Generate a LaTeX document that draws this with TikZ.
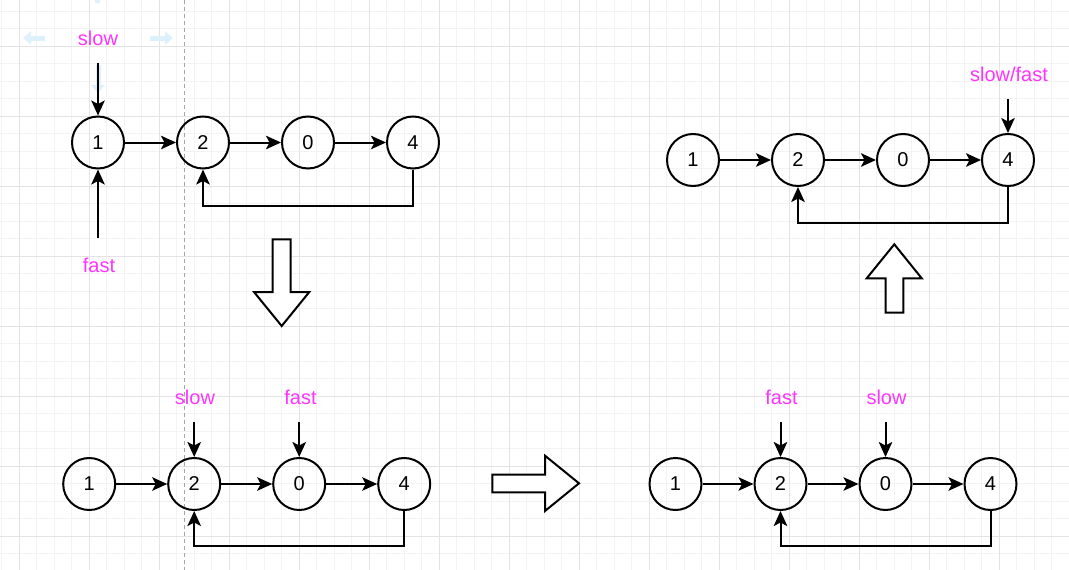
\documentclass[tikz,border=0pt]{standalone}
\usepackage{fontspec}
\setmainfont{Liberation Sans}
\usetikzlibrary{arrows.meta}
\definecolor{mag}{HTML}{FF33FF}
\definecolor{gridminor}{HTML}{F3F3F3}
\definecolor{gridmajor}{HTML}{E3E3E3}
\definecolor{hint}{HTML}{DDF1FC}
\begin{document}
\begin{tikzpicture}[x=1pt,y=-1pt,
  ln/.style={circle, draw, line width=2pt, minimum size=52pt, inner sep=0pt, font=\fontsize{20}{24}\selectfont},
  ptr/.style={line width=2pt, -{Stealth[length=15pt,width=13.5pt,inset=3.5pt]}},
  lbl/.style={text=mag, font=\fontsize{20}{24}\selectfont, inner sep=0pt, text height=14.5pt, text depth=0pt},
  blk/.style={draw, line width=2pt, fill=white, line join=miter},
  hintarrow/.style={hint, line width=5pt, -{Triangle[length=8pt,width=13pt]}}]
\useasboundingbox (0,0) rectangle (1069,570);
\fill[white] (0,0) rectangle (1069,570);
% grid
\foreach \i in {0,...,61} {\draw[gridminor, line width=1pt] ({1.8+17.5*\i},0) -- ({1.8+17.5*\i},570);}
\foreach \i in {0,...,32} {\draw[gridminor, line width=1pt] (0,{11+17.5*\i}) -- (1069,{11+17.5*\i});}
\foreach \i in {0,...,15} {\draw[gridmajor, line width=1pt] ({19.3+70*\i},0) -- ({19.3+70*\i},570);}
\foreach \i in {0,...,7} {\draw[gridmajor, line width=1pt] (0,{46+70*\i}) -- (1069,{46+70*\i});}
% editor guide and hover hints
\draw[gray!70, line width=0.8pt, dash pattern=on 4pt off 3pt] (184.5,0) -- (184.5,570);
\draw[hintarrow] (45,38) -- (23,38);
\draw[hintarrow] (150,38) -- (173,38);
\draw[hintarrow] (98,65) -- (98,93);
\fill[hint] (95,0) rectangle (100,3);

% ---------- top-left ----------
\node[ln] (a1) at (98,142.5) {1};
\node[ln] (a2) at (203,142.5) {2};
\node[ln] (a0) at (308,142.5) {0};
\node[ln] (a4) at (413,142.5) {4};
\draw[ptr] (a1) -- (a2);
\draw[ptr] (a2) -- (a0);
\draw[ptr] (a0) -- (a4);
\draw[ptr] (a4.south) -- ++(0,36) -| (a2.south);
\node[lbl] (aslow) at (98,38.5) {slow};
\coordinate (aslowp) at (98,63);
\draw[ptr] (aslowp) -- (a1.north);
\node[lbl] (afast) at (99,265) {fast};
\coordinate (afastp) at (98,238);
\draw[ptr] (afastp) -- (a1.south);

% ---------- block arrows ----------
\draw[blk] (272.7,239.3) -- (290.7,239.3) -- (290.7,292) -- (309.3,292) -- (281.7,326) -- (254,292) -- (272.7,292) -- cycle;
\draw[blk] (492.3,474.7) -- (545,474.7) -- (545,455.7) -- (579,483.3) -- (545,511) -- (545,492.3) -- (492.3,492.3) -- cycle;
\draw[blk] (885.7,312.7) -- (885.7,278.3) -- (866.7,278.3) -- (894.3,244.3) -- (921.7,278.3) -- (903.3,278.3) -- (903.3,312.7) -- cycle;

% ---------- bottom-left ----------
\node[ln] (b1) at (89.2,484) {1};
\node[ln] (b2) at (194.2,484) {2};
\node[ln] (b0) at (299.2,484) {0};
\node[ln] (b4) at (404.2,484) {4};
\draw[ptr] (b1) -- (b2);
\draw[ptr] (b2) -- (b0);
\draw[ptr] (b0) -- (b4);
\draw[ptr] (b4.south) -- ++(0,35) -| (b2.south);
\node[lbl] (bslow) at (195,397.5) {slow};
\coordinate (bslowp) at (194.2,422);
\draw[ptr] (bslowp) -- (b2.north);
\node[lbl] (bfast) at (300.5,397.5) {fast};
\coordinate (bfastp) at (299.2,422);
\draw[ptr] (bfastp) -- (b0.north);

% ---------- bottom-right ----------
\node[ln] (c1) at (675.5,484) {1};
\node[ln] (c2) at (780.5,484) {2};
\node[ln] (c0) at (885.5,484) {0};
\node[ln] (c4) at (990.5,484) {4};
\draw[ptr] (c1) -- (c2);
\draw[ptr] (c2) -- (c0);
\draw[ptr] (c0) -- (c4);
\draw[ptr] (c4.south) -- ++(0,35) -| (c2.south);
\node[lbl] (cfast) at (781.5,397.5) {fast};
\coordinate (cfastp) at (780.5,422);
\draw[ptr] (cfastp) -- (c2.north);
\node[lbl] (cslow) at (886.5,397.5) {slow};
\coordinate (cslowp) at (885.5,422);
\draw[ptr] (cslowp) -- (c0.north);

% ---------- top-right ----------
\node[ln] (d1) at (693,160) {1};
\node[ln] (d2) at (798,160) {2};
\node[ln] (d0) at (903,160) {0};
\node[ln] (d4) at (1008,160) {4};
\draw[ptr] (d1) -- (d2);
\draw[ptr] (d2) -- (d0);
\draw[ptr] (d0) -- (d4);
\draw[ptr] (d4.south) -- ++(0,36) -| (d2.south);
\node[lbl] (dsf) at (1009,74) {slow/fast};
\coordinate (dsfp) at (1008,99);
\draw[ptr] (dsfp) -- (d4.north);
\end{tikzpicture}
\end{document}
